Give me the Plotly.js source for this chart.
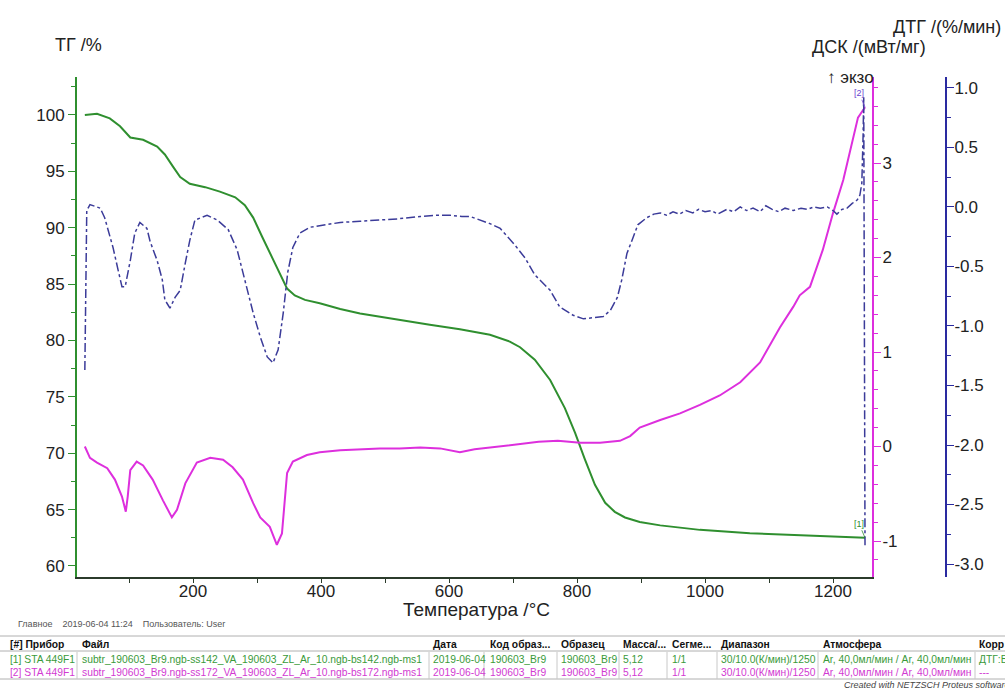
<!DOCTYPE html>
<html>
<head>
<meta charset="utf-8">
<script src="https://cdn.plot.ly/plotly-3.0.1.min.js"></script>
<style>
  html, body { margin: 0; padding: 0; background: #ffffff; }
  #chart { width: 1005px; height: 688px; }
</style>
</head>
<body>
<div id="chart"></div>
<script>
// ---- TG (mass, %) ----
const tgTemperature = [31, 50, 70, 86, 102, 122, 144, 156, 169, 180, 195, 219, 242, 266, 281, 294, 308, 320, 331, 341, 347, 359, 375, 398, 430, 461, 492, 523, 570, 617, 664, 695, 711, 734, 758, 781, 797, 812, 828, 844, 859, 875, 898, 930, 992, 1070, 1148, 1242, 1250];
const tgValues = [100.0, 100.1, 99.7, 99.0, 98.0, 97.8, 97.2, 96.5, 95.4, 94.5, 93.9, 93.6, 93.2, 92.7, 92.0, 90.9, 89.2, 87.8, 86.5, 85.2, 84.6, 84.0, 83.6, 83.3, 82.8, 82.4, 82.1, 81.8, 81.4, 81.0, 80.5, 79.9, 79.4, 78.3, 76.5, 74.0, 71.8, 69.5, 67.2, 65.6, 64.8, 64.3, 63.9, 63.6, 63.2, 62.9, 62.7, 62.5, 62.5];

// ---- DSC (mW/mg) ----
const dscTemperature = [31, 39, 50, 66, 78, 89, 95, 98, 102, 112, 122, 137, 153, 167, 175, 188, 206, 227, 247, 262, 278, 294, 305, 320, 331, 339, 347, 356, 378, 398, 430, 461, 492, 523, 555, 586, 617, 640, 664, 690, 711, 740, 770, 790, 805, 836, 867, 883, 898, 930, 961, 992, 1023, 1055, 1086, 1117, 1138, 1148, 1164, 1184, 1200, 1216, 1230, 1239, 1250];
const dscValues = [0.00, -0.12, -0.17, -0.23, -0.35, -0.53, -0.69, -0.53, -0.25, -0.16, -0.20, -0.35, -0.57, -0.75, -0.67, -0.39, -0.17, -0.12, -0.14, -0.22, -0.35, -0.60, -0.75, -0.85, -1.04, -0.92, -0.28, -0.16, -0.09, -0.06, -0.04, -0.03, -0.02, -0.02, -0.01, -0.02, -0.06, -0.03, -0.01, 0.01, 0.03, 0.05, 0.06, 0.05, 0.04, 0.04, 0.06, 0.11, 0.20, 0.28, 0.35, 0.44, 0.54, 0.68, 0.89, 1.26, 1.48, 1.60, 1.69, 2.08, 2.47, 2.82, 3.24, 3.48, 3.59];

// ---- DTG (%/min) ----
const dtgTemperature = [31, 34, 39, 55, 62, 75, 83, 89, 94, 102, 109, 117, 128, 133, 144, 152, 156, 164, 172, 180, 188, 195, 203, 222, 238, 247, 255, 269, 281, 294, 305, 316, 325, 333, 341, 348, 356, 367, 383, 409, 430, 461, 490, 520, 555, 580, 602, 620, 633, 648, 664, 680, 703, 719, 734, 758, 773, 794, 810, 825, 841, 852, 863, 870, 878, 886, 895, 909, 920, 930, 940, 950, 960, 970, 981, 990, 1000, 1010, 1020, 1034, 1045, 1055, 1065, 1075, 1086, 1095, 1105, 1115, 1125, 1138, 1150, 1160, 1170, 1180, 1191, 1200, 1206, 1214, 1222, 1230, 1238, 1242, 1245, 1247, 1248, 1250];
const dtgValues = [-1.37, -0.03, 0.02, -0.01, -0.09, -0.34, -0.53, -0.67, -0.67, -0.45, -0.22, -0.13, -0.18, -0.29, -0.45, -0.61, -0.78, -0.85, -0.76, -0.70, -0.47, -0.28, -0.11, -0.07, -0.11, -0.15, -0.19, -0.36, -0.61, -0.89, -1.09, -1.26, -1.31, -1.20, -0.89, -0.55, -0.34, -0.22, -0.17, -0.15, -0.13, -0.12, -0.11, -0.10, -0.08, -0.07, -0.07, -0.08, -0.08, -0.11, -0.14, -0.18, -0.32, -0.43, -0.57, -0.70, -0.84, -0.91, -0.94, -0.93, -0.92, -0.87, -0.76, -0.61, -0.39, -0.28, -0.15, -0.09, -0.06, -0.05, -0.07, -0.04, -0.06, -0.03, -0.05, -0.02, -0.04, -0.03, -0.06, -0.02, -0.04, 0.00, -0.03, -0.01, -0.04, 0.01, -0.02, -0.04, -0.01, -0.03, -0.01, -0.02, 0.00, -0.01, 0.00, -0.03, -0.06, -0.02, -0.01, 0.03, 0.06, 0.10, 0.20, 0.60, 0.93, -2.85];

// ---- axis ticks ----
const tempTicks = [200, 400, 600, 800, 1000, 1200];
const tempTickText = ['200', '400', '600', '800', '1000', '1200'];
const tgTicks = [60, 65, 70, 75, 80, 85, 90, 95, 100];
const tgTickText = ['60', '65', '70', '75', '80', '85', '90', '95', '100'];
const dscTicks = [-1, 0, 1, 2, 3];
const dscTickText = ['-1', '0', '1', '2', '3'];
const dtgTicks = [-3.0, -2.5, -2.0, -1.5, -1.0, -0.5, 0.0, 0.5, 1.0];
const dtgTickText = ['-3.0', '-2.5', '-2.0', '-1.5', '-1.0', '-0.5', '0.0', '0.5', '1.0'];

// ---- measurement table ----
const tableHeader = ['[#] Прибор', 'Файл', 'Дата', 'Код образ...', 'Образец', 'Масса/...', 'Сегме...', 'Диапазон', 'Атмосфера', 'Корр'];
const tableRow1 = ['[1] STA 449F1', 'subtr_190603_Br9.ngb-ss142_VA_190603_ZL_Ar_10.ngb-bs142.ngb-ms1', '2019-06-04', '190603_Br9', '190603_Br9', '5,12', '1/1', '30/10.0(К/мин)/1250', 'Ar, 40,0мл/мин / Ar, 40,0мл/мин', 'ДТГ:Б'];
const tableRow2 = ['[2] STA 449F1', 'subtr_190603_Br9.ngb-ss172_VA_190603_ZL_Ar_10.ngb-bs172.ngb-ms1', '2019-06-04', '190603_Br9', '190603_Br9', '5,12', '1/1', '30/10.0(К/мин)/1250', 'Ar, 40,0мл/мин / Ar, 40,0мл/мин', '---'];

// ---- layout geometry (pixels of a 1005x688 figure) ----
const W = 1005, H = 688;
const fx = p => p / W;
const fy = p => 1 - p / H;
const FONT = 'Liberation Sans, Arial, sans-serif';
const GREEN = '#2f8f2f', MAGENTA = '#dd2fdd', NAVY = '#2a2aa0', DTG_LINE = '#3b3b99';

const plotLeft = 77, plotRight = 872, plotTop = 77, plotBottom = 577;
const dtgAxisX = 946;

const traces = [
  { x: dscTemperature, y: dscValues, yaxis: 'y2', type: 'scatter', mode: 'lines',
    line: { color: MAGENTA, width: 2 }, hoverinfo: 'skip' },
  { x: dtgTemperature, y: dtgValues, yaxis: 'y3', type: 'scatter', mode: 'lines',
    line: { color: DTG_LINE, width: 1.5, dash: 'dashdot' }, hoverinfo: 'skip' },
  { x: tgTemperature, y: tgValues, yaxis: 'y', type: 'scatter', mode: 'lines',
    line: { color: GREEN, width: 2 }, hoverinfo: 'skip' }
];

const tickFont = { family: FONT, size: 17, color: '#222' };

const layout = {
  width: W, height: H,
  margin: { l: 0, r: 0, t: 0, b: 0 },
  paper_bgcolor: '#ffffff', plot_bgcolor: '#ffffff',
  showlegend: false,
  xaxis: {
    domain: [fx(plotLeft), fx(plotRight)],
    range: [18.75, 1260.9],
    showgrid: false, zeroline: false,
    showline: true, linecolor: '#2b3b2b', linewidth: 1.5,
    tickmode: 'array', tickvals: tempTicks, ticktext: tempTickText,
    ticks: 'outside', ticklen: 4, tickcolor: '#2b3b2b', tickfont: tickFont,
    ticklabelstandoff: -6,
    minor: { tickmode: 'linear', tick0: 0, dtick: 100, ticks: 'outside', ticklen: 4, tickcolor: '#2b3b2b' }
  },
  yaxis: {
    domain: [fy(plotBottom), fy(plotTop)],
    range: [59.02, 103.37],
    showgrid: false, zeroline: false,
    showline: true, linecolor: GREEN, linewidth: 2,
    tickmode: 'array', tickvals: tgTicks, ticktext: tgTickText,
    ticks: 'outside', ticklen: 7, tickcolor: GREEN, tickfont: tickFont,
    minor: { tickmode: 'linear', tick0: 0, dtick: 2.5, ticks: 'outside', ticklen: 4, tickcolor: GREEN }
  },
  yaxis2: {
    overlaying: 'y', side: 'right', anchor: 'x',
    range: [-1.381, 3.910],
    showgrid: false, zeroline: false,
    showline: true, linecolor: MAGENTA, linewidth: 2,
    tickmode: 'array', tickvals: dscTicks, ticktext: dscTickText,
    ticks: 'outside', ticklen: 7, tickcolor: MAGENTA, tickfont: tickFont,
    ticklabelstandoff: -2,
    minor: { tickmode: 'linear', tick0: 0, dtick: 0.2, ticks: 'outside', ticklen: 4, tickcolor: MAGENTA }
  },
  yaxis3: {
    overlaying: 'y', side: 'right', anchor: 'free', position: fx(dtgAxisX),
    range: [-3.109, 1.092],
    showgrid: false, zeroline: false,
    showline: true, linecolor: NAVY, linewidth: 2,
    tickmode: 'array', tickvals: dtgTicks, ticktext: dtgTickText,
    ticks: 'outside', ticklen: 7, tickcolor: NAVY, tickfont: tickFont,
    ticklabelstandoff: -3,
    minor: { tickmode: 'linear', tick0: 0, dtick: 0.25, ticks: 'outside', ticklen: 4, tickcolor: NAVY }
  },
  annotations: [],
  shapes: []
};

function label(text, x, y, opts) {
  layout.annotations.push(Object.assign({
    xref: 'paper', yref: 'paper', x: fx(x), y: fy(y),
    text: text, showarrow: false,
    xanchor: 'left', yanchor: 'middle',
    font: { family: FONT, size: 18, color: '#222' }
  }, opts || {}));
}

// axis titles
label('ТГ /%', 53, 45);
label('ДТГ /(%/мин)', 1003, 27, { xanchor: 'right' });
label('ДСК /(мВт/мг)', 928, 47, { xanchor: 'right' });
label('↑ экзо', 825, 78, { font: { family: FONT, size: 17, color: '#222' } });
label('Температура /°C', 476, 609, { xanchor: 'center', font: { family: FONT, size: 19, color: '#222' } });

// curve tags
layout.annotations.push({
  xref: 'x', yref: 'y', x: 1250, y: 62.5, text: '[1]', showarrow: true,
  arrowhead: 0, arrowwidth: 0.8, arrowcolor: GREEN, ax: -6, ay: -14,
  font: { family: FONT, size: 9, color: GREEN }
});
layout.annotations.push({
  xref: 'x', yref: 'y2', x: 1250, y: 3.59, text: '[2]', showarrow: true,
  arrowhead: 0, arrowwidth: 0.8, arrowcolor: '#7a4ad0', ax: -6, ay: -14,
  font: { family: FONT, size: 9, color: '#6a3fd0' }
});

// info line
label('Главное    2019-06-04 11:24    Пользователь: User', 16, 624,
  { font: { family: FONT, size: 9, color: '#555' } });

// table
const colX = [8, 80, 431, 488, 559, 621, 670, 719, 821, 977];
const sepX = [77, 429, 484, 557, 619, 667, 717, 818, 975];
const headerY = 644, row1Y = 659, row2Y = 672;
tableHeader.forEach((t, i) => label(t, colX[i], headerY,
  { font: { family: FONT, size: 10.3, color: '#111' }, text: '<b>' + t + '</b>' }));
tableRow1.forEach((t, i) => label(t, colX[i], row1Y, { font: { family: FONT, size: 10.3, color: '#3a9a3a' } }));
tableRow2.forEach((t, i) => label(t, colX[i], row2Y, { font: { family: FONT, size: 10.3, color: '#d23ad2' } }));

[636, 651, 679].forEach(yy => layout.shapes.push({
  type: 'line', xref: 'paper', yref: 'paper', x0: fx(0), x1: fx(W), y0: fy(yy), y1: fy(yy),
  line: { color: '#b0b0b0', width: 1 }
}));
sepX.forEach(xx => layout.shapes.push({
  type: 'line', xref: 'paper', yref: 'paper', x0: fx(xx), x1: fx(xx), y0: fy(652), y1: fy(679),
  line: { color: '#c8c8c8', width: 1 }
}));

label('Created with NETZSCH Proteus software', 842, 685,
  { font: { family: FONT, size: 9, color: '#444' }, text: '<i>Created with NETZSCH Proteus software</i>' });

Plotly.newPlot('chart', traces, layout, { staticPlot: true, displayModeBar: false });
</script>
</body>
</html>
